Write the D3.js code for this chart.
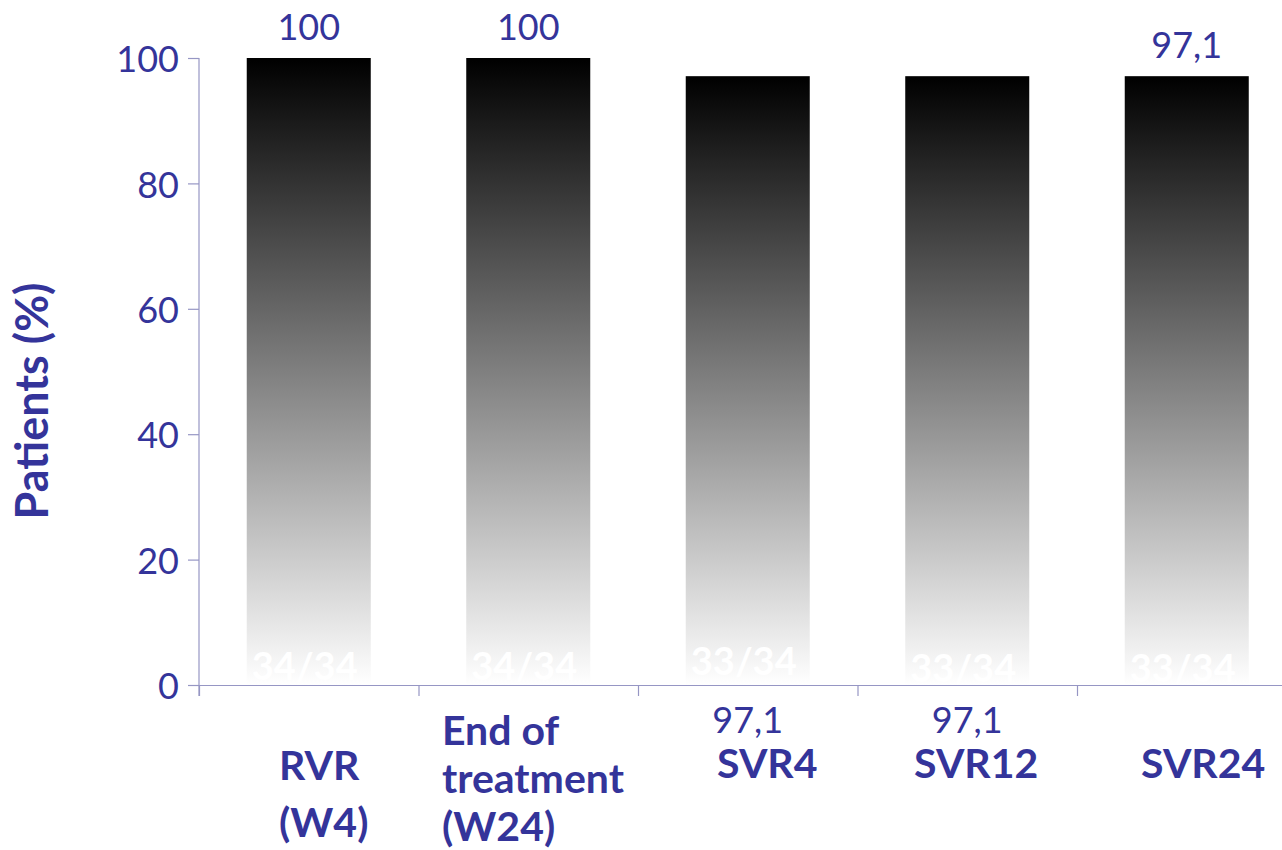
<!DOCTYPE html>
<html>
<head>
<meta charset="utf-8">
<script src="https://cdn.jsdelivr.net/npm/d3@7"></script>
<style>
  html, body { margin: 0; padding: 0; background: #fff; }
  svg { display: block; }
  text { font-family: Lato, "Open Sans", sans-serif; }
</style>
</head>
<body>
<svg id="chart" width="1282" height="850"></svg>
<script>
// Response milestones (each category label split into its display lines)
const categories = [["RVR", "(W4)"], ["End of", "treatment", "(W24)"], ["SVR4"], ["SVR12"], ["SVR24"]];
const values = [100, 100, 97.1, 97.1, 97.1];
const valueLabels = ["100", "100", "97,1", "97,1", "97,1"];
const counts = ["34/34", "34/34", "33/34", "33/34", "33/34"];
const yTicks = [0, 20, 40, 60, 80, 100];

const ink = "#34349a";
const axisColor = "#9696c4";

const svg = d3.select("#chart");
const plotLeft = 199, plotRight = 1296.5, plotTop = 58, plotBottom = 685;

const y = d3.scaleLinear().domain([0, 100]).range([plotBottom, plotTop]);
const x = d3.scaleBand().domain(d3.range(values.length)).range([plotLeft, plotRight]).padding(0);
const barW = x.bandwidth() * 0.565;
const cx = i => x(i) + x.bandwidth() / 2;

// vertical gradient, black at the top fading to white at the base
const defs = svg.append("defs");
const grad = defs.append("linearGradient")
  .attr("id", "barFill").attr("x1", 0).attr("y1", 0).attr("x2", 0).attr("y2", 1);
grad.append("stop").attr("offset", "0%").attr("stop-color", "#000");
grad.append("stop").attr("offset", "100%").attr("stop-color", "#fff");

// bars
svg.append("g").selectAll("rect").data(values).join("rect")
  .attr("x", (d, i) => cx(i) - barW / 2)
  .attr("y", d => y(d))
  .attr("width", barW)
  .attr("height", d => y(0) - y(d))
  .attr("fill", "url(#barFill)");

// y axis
const yAxis = svg.append("g")
  .attr("transform", `translate(${plotLeft},0)`)
  .call(d3.axisLeft(y).tickValues(yTicks).tickSize(11).tickSizeOuter(0).tickPadding(9));
yAxis.select(".domain").attr("stroke", axisColor).attr("stroke-width", 1.2)
  .attr("d", `M0,${plotTop}V${plotBottom + 11}`);
yAxis.selectAll(".tick line").attr("stroke", axisColor).attr("stroke-width", 1.2);
yAxis.selectAll(".tick text")
  .attr("fill", ink).attr("font-size", 36).attr("dy", "0.38em")
  .style("font-family", "Lato, sans-serif");

// x axis: baseline with ticks on the category boundaries
const xb = d3.scaleLinear().domain([0, values.length]).range([plotLeft, plotRight]);
const xAxis = svg.append("g")
  .attr("transform", `translate(0,${plotBottom})`)
  .call(d3.axisBottom(xb).tickValues(d3.range(values.length)).tickSize(11).tickSizeOuter(0).tickFormat(""));
xAxis.select(".domain").attr("stroke", axisColor).attr("stroke-width", 1.2);
xAxis.selectAll(".tick line").attr("stroke", axisColor).attr("stroke-width", 1.2);

// patient counts inside the bars
const countBase = [680, 680, 675, 682, 682];
svg.append("g").selectAll("text").data(counts).join("text")
  .attr("x", (d, i) => cx(i) - 4)
  .attr("y", (d, i) => countBase[i])
  .attr("text-anchor", "middle")
  .attr("font-size", 38).attr("font-weight", 700)
  .attr("fill", "#fff")
  .text(d => d);

// value labels: SVR4 and SVR12 labels sit beneath the axis
const below = new Set([2, 3]);
svg.append("g").selectAll("text").data(values).join("text")
  .attr("x", (d, i) => cx(i))
  .attr("y", (d, i) => below.has(i) ? y(0) + 48 : y(d) - 18)
  .attr("text-anchor", "middle")
  .attr("font-size", 36)
  .attr("fill", ink)
  .text((d, i) => valueLabels[i]);

// category labels, left-aligned blocks
const labelLeft = [279, 442, 717, 914, 1141];
const firstBase = [780, 745, 778, 778, 778];
const lineGap = [57, 48, 0, 0, 0];
const catG = svg.append("g");
categories.forEach((lines, i) => {
  const t = catG.append("text")
    .attr("x", labelLeft[i])
    .attr("y", firstBase[i])
    .attr("font-size", 41).attr("font-weight", 700)
    .attr("fill", ink);
  lines.forEach((ln, j) => {
    t.append("tspan").attr("x", labelLeft[i]).attr("y", firstBase[i] + j * lineGap[i]).text(ln);
  });
});

// y axis title
svg.append("text")
  .attr("transform", `translate(48,${401}) rotate(-90)`)
  .attr("text-anchor", "middle")
  .attr("font-size", 45).attr("font-weight", 700)
  .attr("fill", ink)
  .text("Patients (%)");
</script>
</body>
</html>
